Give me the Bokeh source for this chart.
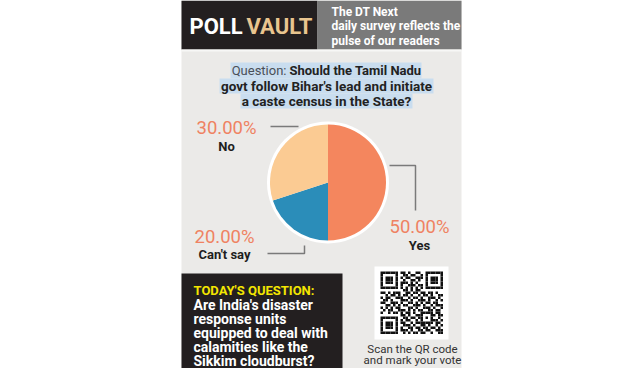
from bokeh.plotting import figure
from bokeh.models import Range1d
from bokeh.core.properties import value
from bokeh.embed import file_html
from bokeh.resources import INLINE
import math

# ---- data ----
categories = ["Yes", "Can't say", "No"]
shares = [50.0, 20.0, 30.0]
slice_colors = ["#F4865E", "#2B8DB9", "#FBCB93"]
pct_labels = ["50.00%", "20.00%", "30.00%"]

header_title = ["POLL", "VAULT"]
header_note = ["The DT Next", "daily survey reflects the", "pulse of our readers"]
question_lead = "Question:"
question_lines = ["Should the Tamil Nadu", "govt follow Bihar's lead and initiate",
                  "a caste census in the State?"]
today_title = "TODAY'S QUESTION:"
today_lines = ["Are India's disaster", "response units", "equipped to deal with",
               "calamities like the", "Sikkim cloudburst?"]
scan_lines = ["Scan the QR code", "and mark your vote"]

qr_rows = [
    "1111111011010011001111111",
    "1000001001101100101000001",
    "1011101010110011101011101",
    "1011101001001101001011101",
    "1011101011101010001011101",
    "1000001010011101101000001",
    "1111111010101010101111111",
    "0000000001101011000000000",
    "1101011100110110110110100",
    "0010110101101001011010011",
    "1011001110010110100111010",
    "0110100011101001110100101",
    "1100111010011010101101100",
    "0011010101100111010010111",
    "1010101100011010011101001",
    "0101100111010101100110110",
    "1001011010110100111110110",
    "0000000011010011100011011",
    "1111111001101101101010010",
    "1000001010110010100011101",
    "1011101011001011111110110",
    "1011101001110100110100101",
    "1011101010011011011011010",
    "1000001011101001101100111",
    "1111111001010110110010011",
]

FONT = value("Roboto")

p = figure(width=624, height=368, output_backend="svg", toolbar_location=None,
           x_range=Range1d(0, 624), y_range=Range1d(368, 0),
           min_border=0, outline_line_color=None, background_fill_color="white",
           border_fill_color="white")
p.axis.visible = False
p.grid.visible = False

# panel backgrounds
p.quad(left=[181], right=[461], top=[0], bottom=[384], fill_color="#EBEAE8", line_color=None)
p.quad(left=[181], right=[317], top=[0], bottom=[49], fill_color="#231F20", line_color=None)
p.quad(left=[317], right=[461], top=[0], bottom=[49], fill_color="#7A7A7A", line_color=None)
p.quad(left=[181], right=[461], top=[49], bottom=[51], fill_color="#F7F7F6", line_color=None)
p.quad(left=[181], right=[342], top=[273], bottom=[384], fill_color="#231F20", line_color=None)

# header title
p.text(x=[189], y=[26], text=[header_title[0]], text_color="white", text_font=FONT,
       text_font_style="bold", text_font_size="22px", text_baseline="middle", text_align="left")
p.text(x=[246], y=[26], text=[header_title[1]], text_color="#E9C58F", text_font=FONT,
       text_font_style="bold", text_font_size="22px", text_baseline="middle", text_align="left")
p.text(x=[331] * 3, y=[11, 25, 40], text=header_note, text_color="white", text_font=FONT,
       text_font_style="bold", text_font_size="12px", text_baseline="middle", text_align="left")

# question highlight
p.quad(left=[230, 219, 240], right=[421, 433, 412], top=[62, 78, 93], bottom=[78, 93, 108],
       fill_color="#C9DDEF", line_color=None)
p.text(x=[286], y=[70], text=[question_lead], text_color="#4A4F57", text_font=FONT,
       text_font_size="13px", text_baseline="middle", text_align="right")
p.text(x=[289], y=[70], text=[question_lines[0]], text_color="#222222", text_font=FONT,
       text_font_style="bold", text_font_size="13px", text_baseline="middle", text_align="left")
p.text(x=[326, 326], y=[85, 100], text=question_lines[1:], text_color="#222222", text_font=FONT,
       text_font_style="bold", text_font_size="13.5px", text_baseline="middle", text_align="center")

# pie
total = sum(shares)
starts, ends = [], []
a = math.pi / 2
for s in shares:
    starts.append(a - 2 * math.pi * s / total)
    ends.append(a)
    a -= 2 * math.pi * s / total
p.circle(x=[327.5], y=[182], radius=61, fill_color="white", line_color=None)
p.wedge(x=[327.5] * 3, y=[182] * 3, radius=58, start_angle=starts, end_angle=ends,
        fill_color=slice_colors, line_color=None)

# leader lines
p.line(x=[270, 298], y=[126, 126], line_color="#7A7A7A", line_width=1.5)
p.line(x=[389, 415, 415], y=[165, 165, 210], line_color="#7A7A7A", line_width=1.5)
p.line(x=[267, 304, 304], y=[253, 253, 245], line_color="#7A7A7A", line_width=1.5)

# labels
p.text(x=[419, 224, 226], y=[226, 236, 127], text=pct_labels, text_color="#EF8262", text_font=FONT,
       text_font_size="18.5px", text_baseline="middle", text_align="center")
p.text(x=[419, 224, 226], y=[245, 254, 146], text=categories, text_color="#1E1E1E", text_font=FONT,
       text_font_style="bold", text_font_size="13px", text_baseline="middle", text_align="center")

# today's question
p.text(x=[193], y=[290], text=[today_title], text_color="#F3E600", text_font=FONT,
       text_font_style="bold", text_font_size="13px", text_baseline="middle", text_align="left")
p.text(x=[193] * 5, y=[304, 318, 332, 346, 360], text=today_lines, text_color="white", text_font=FONT,
       text_font_style="bold", text_font_size="14px", text_baseline="middle", text_align="left")

# QR code
p.quad(left=[374], right=[448], top=[266], bottom=[339], fill_color="white", line_color=None)
m = 2.5
ql, qr_, qt, qb = [], [], [], []
for r, row in enumerate(qr_rows):
    for c, ch in enumerate(row):
        if ch == "1":
            ql.append(380 + c * m); qr_.append(380 + (c + 1) * m)
            qt.append(271 + r * m); qb.append(271 + (r + 1) * m)
p.quad(left=ql, right=qr_, top=qt, bottom=qb, fill_color="#111111", line_color=None)

p.text(x=[412, 412], y=[348, 359], text=scan_lines, text_color="#333333", text_font=FONT,
       text_font_size="11.5px", text_baseline="middle", text_align="center")

open("out.html", "w").write(file_html(p, INLINE))
